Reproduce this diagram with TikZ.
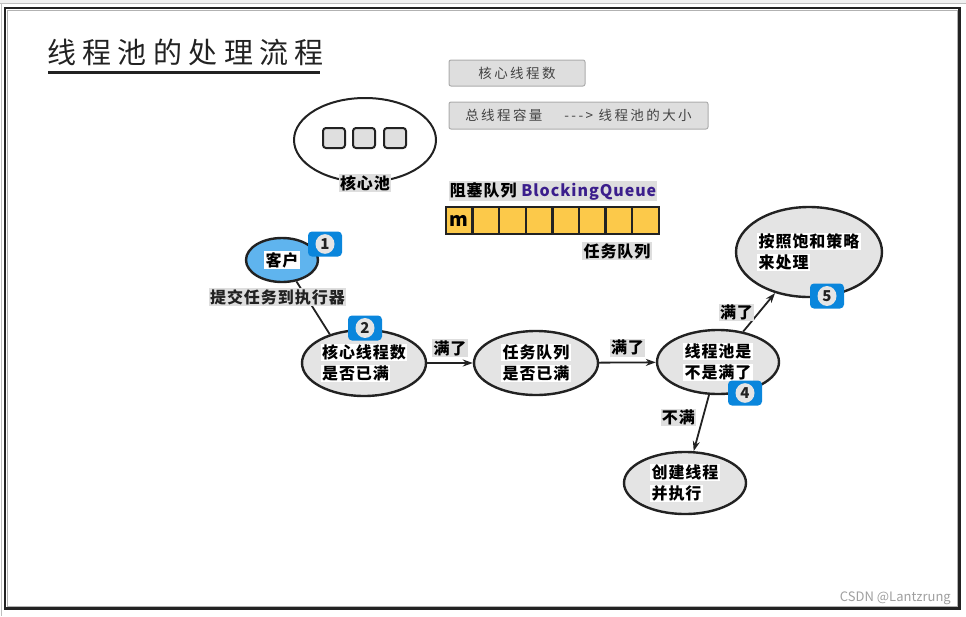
\documentclass[tikz,border=0pt]{standalone}
\usepackage{fontspec}
\setmainfont{Noto Sans CJK SC}
\newfontfamily\titlefont{Noto Sans CJK SC}[LetterSpace=22]
\newfontfamily\boxfont{Noto Sans CJK SC}[LetterSpace=18]
\newfontfamily\lblfont{Noto Sans CJK SC}[LetterSpace=6]
\usetikzlibrary{shapes.geometric,arrows.meta}
\definecolor{halo}{HTML}{DEDEDE}
\definecolor{oval}{HTML}{E4E4E4}
\definecolor{ink}{HTML}{222222}
\definecolor{badgeblue}{HTML}{0A86DC}
\definecolor{qfill}{HTML}{FCC94A}
\definecolor{custblue}{HTML}{5FB4EE}
\definecolor{bqpurple}{HTML}{3B1E8C}
\setlength{\fboxsep}{1.2pt}
\def\HG#1{\colorbox{halo}{#1}}
\def\HW#1{\colorbox{white}{#1}}
\def\Badge#1#2#3{\node[badge] (#1) at (#2) {}; \node[badgenum] (#1n) at (#1) {#3};}

\begin{document}
\begin{tikzpicture}[x=1pt,y=-1pt,
  oval/.style={ellipse,draw=ink,line width=2.4pt,fill=oval,inner sep=0pt,align=left,
    font=\lblfont\bfseries\fontsize{16}{21}\selectfont},
  lbl/.style={inner sep=0pt,font=\lblfont\bfseries\fontsize{16}{20}\selectfont},
  gbox/.style={draw=gray!65,fill=halo,line width=1pt,rounded corners=2pt,inner sep=0pt,
    text=ink!85,font=\boxfont\fontsize{13.5}{16}\selectfont},
  slot/.style={draw=ink,fill=gray!25,line width=2pt,rounded corners=3pt,
    minimum width=22,minimum height=20,inner sep=0pt},
  cell/.style={draw=ink,fill=qfill,line width=2.4pt,minimum width=26.6,minimum height=27,inner sep=0pt},
  badge/.style={fill=badgeblue,rounded corners=4pt,minimum width=34,minimum height=25,inner sep=0pt},
  badgenum/.style={ellipse,fill=gray!20,inner sep=1.5pt,minimum width=19,minimum height=18,
    text=ink,font=\bfseries\fontsize{15}{15}\selectfont},
  flow/.style={draw=ink,line width=1.8pt,-{Stealth[length=10pt,width=7pt]}}]
\useasboundingbox (0,0) rectangle (966,616);
\fill[gray!12] (0,0) rectangle (966,3);
\draw[gray!50,line width=0.6pt] (0,3.3) -- (966,3.3);
\draw[gray!50,line width=0.6pt] (1,3.3) -- (1,616);
\draw[ink,line width=2.5pt] (5,8) rectangle (959.5,608.5);
\draw[gray!60,line width=0.8pt] (7.5,10.5) rectangle (957,606);

\node[anchor=west,inner sep=0pt,text=ink] (title) at (47,52) {\titlefont\fontsize{29}{31}\selectfont 线程池的处理流程};
\draw[ink,line width=3pt] (48,72) -- (320,72);

\node[gbox,minimum width=136,minimum height=26] (core) at (517,73) {核心线程数};
\node[gbox,minimum width=259,minimum height=27] (total) at (578.5,115.5) {总线程容量\ \ \ \ ---> 线程池的大小};

\node[ellipse,draw=ink,fill=white,line width=2pt,minimum width=142,minimum height=84] (pool) at (365,140) {};
\foreach \i/\x in {0/334,1/364,2/395} \node[slot] (s\i) at (\x,138) {};
\node[lbl] (poollbl) at (365,183) {\HG{核心池}};

\node[lbl] (bqlbl) at (553,191) {\HG{阻塞队列 \textcolor{bqpurple}{BlockingQueue}}};
\foreach \i in {0,...,7} \node[cell] (q\i) at (459.3+\i*26.6,220.5) {};
\node[inner sep=0pt,font=\bfseries\fontsize{19}{19}\selectfont] (m) at (q0) {m};
\node[lbl] (qlbl) at (617,251) {\HG{任务队列}};

\node[ellipse,draw=ink,fill=custblue,line width=2.4pt,minimum width=72,minimum height=44,inner sep=0pt,
  font=\lblfont\bfseries\fontsize{16}{20}\selectfont] (cust) at (282,260) {\HW{客户}};
\node[oval,minimum width=124,minimum height=66] (c2) at (364,363) {\HW{核心线程数}\\\HW{是否已满}};
\node[oval,minimum width=124,minimum height=64] (c3) at (536,363) {\HW{任务队列}\\\HW{是否已满}};
\node[oval,minimum width=122,minimum height=64] (c4) at (718,362) {\HW{线程池是}\\\HW{不是满了}};
\node[oval,minimum width=142,minimum height=90] (c5) at (809,252) {\HW{按照饱和策略}\\\HW{来处理}};
\node[oval,minimum width=122,minimum height=62] (c6) at (685,483) {\HW{创建线程}\\\HW{并执行}};

\draw[ink,line width=1.8pt] (cust.-56) -- node[lbl,pos=0.3,xshift=-29pt] {\HG{提交任务到执行器}} (c2.140);
\draw[flow] (c2) -- node[lbl,above=5pt] {\HG{满了}} (c3);
\draw[flow] (c3) -- node[lbl,above=5pt] {\HG{满了}} (c4);
\draw[flow] (c4) -- node[lbl,left=4pt] {\HG{满了}} (c5);
\draw[flow] (c4) -- node[lbl,pos=0.4,left=6pt] {\HG{不满}} (c6);

\Badge{b1}{325,244}{1}
\Badge{b2}{365,328}{2}
\Badge{b4}{745,393}{4}
\Badge{b5}{827,296}{5}

\node[anchor=east,inner sep=0pt,text=gray!75,font=\fontsize{13}{15}\selectfont] (wm) at (951,598) {CSDN @Lantzrung};
\end{tikzpicture}
\end{document}
